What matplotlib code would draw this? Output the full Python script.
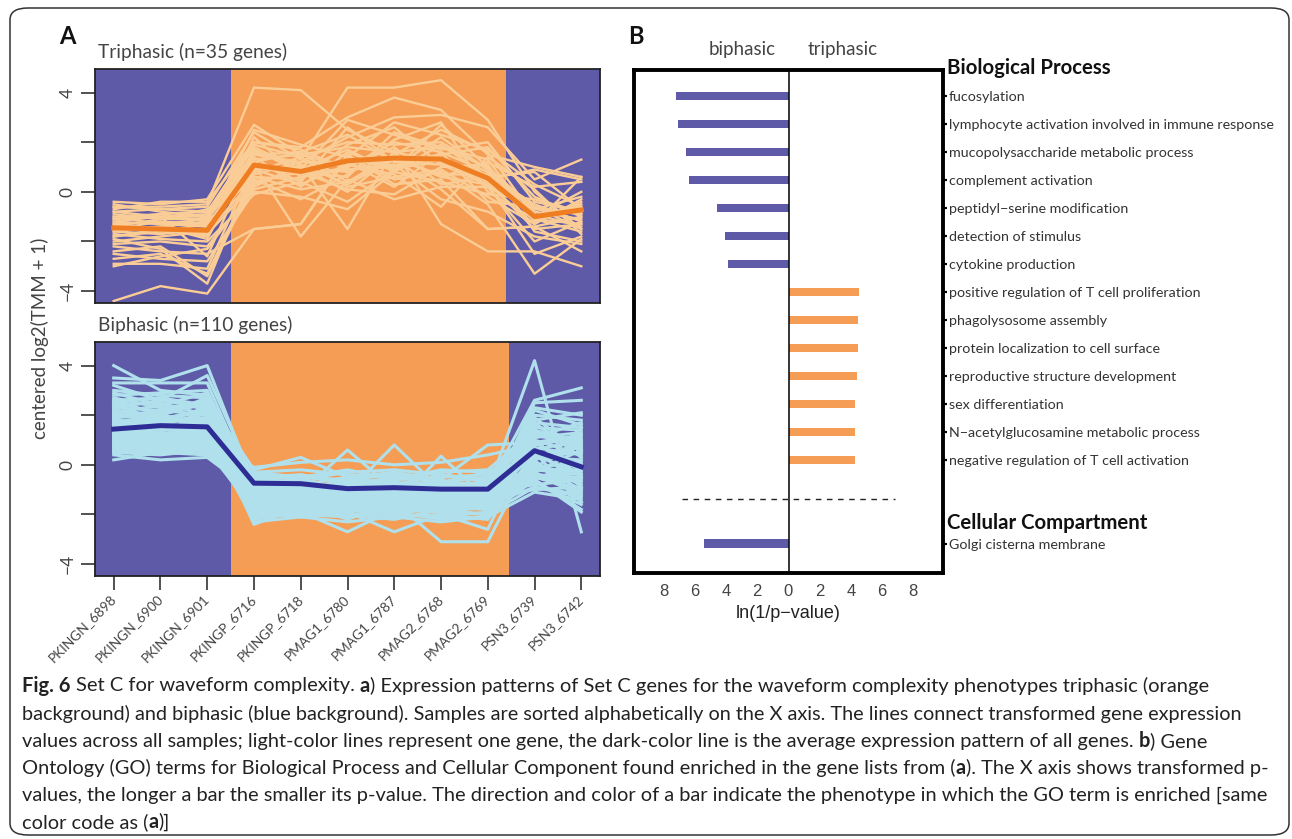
import numpy as np
import matplotlib.pyplot as plt
from matplotlib.patches import FancyBboxPatch
import matplotlib.transforms as mtransforms

plt.rcParams['font.family'] = ['Lato', 'DejaVu Sans']

W, H = 1292, 839

# ---------------- data ----------------
samples = ['PKINGN_6898', 'PKINGN_6900', 'PKINGN_6901', 'PKINGP_6716', 'PKINGP_6718',
           'PMAG1_6780', 'PMAG1_6787', 'PMAG2_6768', 'PMAG2_6769', 'PSN3_6739', 'PSN3_6742']

# average expression patterns (dark lines)
tri_mean = [-1.45, -1.5, -1.55, 1.08, 0.82, 1.25, 1.36, 1.32, 0.55, -1.0, -0.73]
bi_mean = [1.44, 1.58, 1.53, -0.74, -0.76, -0.96, -0.92, -0.98, -0.98, 0.57, -0.08]

# single genes, triphasic set (n=35)
tri_genes = [
    [-0.4, -0.5, -0.3, 2.7, 1.5, 1.0, 2.0, 1.6, 0.8, -0.6, -0.9],
    [-0.6, -0.6, -0.5, 4.2, 4.1, 2.5, 1.6, 1.8, 1.0, -1.2, -0.5],
    [-0.8, -0.7, -0.6, 2.4, 1.3, 4.2, 4.2, 4.5, 2.9, 0.0, -1.5],
    [-1.0, -0.9, -0.8, 2.0, 1.8, 3.0, 3.8, 3.3, 1.5, 1.0, 0.6],
    [-1.1, -1.0, -1.0, 1.5, 1.2, 2.2, 3.0, 3.1, 2.6, 0.5, 1.3],
    [-1.2, -1.3, -1.1, 1.8, 0.9, 2.9, 2.3, 1.7, 2.0, -0.4, -0.8],
    [-1.3, -1.2, -1.3, 1.2, 1.6, 0.4, 1.5, 2.5, 1.6, -1.0, -0.6],
    [-1.5, -1.4, -1.2, 0.6, 0.5, 1.9, 2.6, 1.1, 0.3, -2.5, -1.8],
    [-1.6, -1.7, -1.5, 1.0, 0.7, 1.3, 1.0, 2.2, 0.9, -0.8, -1.1],
    [-1.8, -1.6, -1.7, 0.3, 1.0, 0.8, 1.4, 0.6, 1.2, 0.2, 0.4],
    [-0.5, -0.8, -1.0, 1.4, 0.2, 1.6, 0.9, 1.3, 0.4, -1.5, -1.3],
    [-0.9, -1.1, -0.7, 0.8, 1.4, 0.2, 0.6, 0.9, -0.2, -1.3, -0.3],
    [-1.4, -1.5, -1.8, 2.2, 0.6, 1.0, 1.8, 0.3, 0.6, 0.8, -0.7],
    [-1.7, -1.9, -2.0, -0.1, 0.4, 2.6, 1.2, 1.5, 1.8, -0.2, -1.0],
    [-2.0, -1.8, -1.6, 0.5, -0.3, 0.7, 2.1, 2.8, 0.0, -1.1, -1.6],
    [-2.2, -2.4, -2.5, -1.5, -1.3, 1.5, 0.3, 0.5, -1.5, -1.4, -2.4],
    [-2.5, -2.7, -2.8, 0.0, -0.2, -0.7, 0.8, 1.9, 0.6, -0.9, -1.4],
    [-2.9, -2.9, -3.1, 1.1, -1.8, 0.5, -0.3, 0.2, 0.2, -2.0, -1.2],
    [-3.0, -2.6, -2.3, 0.2, 1.1, -1.5, 1.7, -1.3, -2.4, -2.4, -3.0],
    [-4.4, -3.8, -4.1, -1.5, -1.3, 1.4, 0.5, 0.8, -0.5, -3.3, -1.9],
    [-2.4, -2.2, -3.4, 0.4, 0.8, 0.1, -0.1, 1.0, 1.1, -1.6, -2.0],
    [-1.9, -2.3, -3.7, 0.9, 0.3, 1.1, 0.7, -0.6, 1.4, 0.1, -1.7],
    [-1.2, -1.0, -2.6, 1.6, 1.1, 0.3, 1.3, 0.7, 0.7, -0.5, -1.2],
    [-0.7, -0.4, -0.4, 2.0, 1.7, 0.9, 1.0, 1.4, 0.2, -0.7, -0.9],
    [-1.0, -1.3, -1.4, 1.3, 1.5, 1.8, 1.6, 1.2, 0.5, 0.9, 0.5],
    [-1.6, -1.4, -1.9, 1.7, 0.8, 0.6, 2.4, 1.8, 1.3, -1.2, -0.4],
    [-1.3, -1.6, -1.3, 0.7, 1.2, 1.2, 0.2, 1.6, -0.4, -0.6, -1.5],
    [-0.8, -1.0, -0.9, 1.9, 1.4, 2.0, 1.9, 2.0, 0.9, -1.0, 0.0],
    [-1.5, -1.2, -1.4, 1.1, 0.9, 1.7, 0.8, 0.4, -0.1, -0.3, -0.8],
    [-2.1, -2.0, -2.2, 0.1, 0.6, 0.9, 1.1, -0.3, -0.8, -1.8, -2.1],
    [-1.1, -0.9, -1.2, 2.5, 1.9, 1.4, 2.8, 2.3, 1.7, 0.3, -0.6],
    [-2.7, -2.5, -3.3, 0.6, 0.1, 0.4, 1.3, 0.1, -1.5, -1.4, -1.0],
    [-0.6, -0.7, -0.8, 1.5, 1.6, 2.3, 1.2, 1.1, 0.7, -1.1, -1.3],
    [-1.4, -1.1, -1.1, 1.2, 0.4, -0.4, 0.9, 2.7, 1.0, -0.7, -0.2],
    [-1.8, -1.5, -1.0, 0.9, 1.0, 0.0, 1.5, 0.6, 0.3, -1.3, 0.6],
]

# single genes, biphasic set (subset of the 110)
bi_genes = [
    [4.0, 3.0, 2.8, -0.4, -0.6, -1.0, -0.9, -1.1, -1.0, 4.2, -2.7],
    [3.5, 3.4, 4.0, -0.8, -1.0, -1.2, -1.1, -1.0, -0.9, 2.6, 3.1],
    [3.3, 3.3, 3.3, -1.0, -1.3, -1.5, -1.4, -1.6, -1.5, 2.5, 2.6],
    [3.2, 2.6, 3.6, -0.6, -0.7, -0.9, -0.8, -0.7, -0.8, 1.8, 2.1],
    [2.8, 2.9, 3.0, -1.2, -1.1, 0.6, -1.0, -1.2, -1.3, 2.2, 1.6],
    [2.7, 2.3, 2.5, -0.9, -0.8, -1.1, 0.8, -1.0, -1.1, 1.5, 1.4],
    [2.6, 2.7, 2.2, -1.4, -1.5, -1.3, -1.6, 0.35, -1.4, 1.2, 1.0],
    [2.5, 2.1, 2.6, -0.2, 0.3, -0.5, -0.3, -0.6, 0.8, 0.9, 1.2],
    [2.4, 2.5, 2.0, -1.8, -1.9, -2.7, -1.8, -1.9, -2.0, 1.9, 0.5],
    [2.3, 2.2, 2.4, -2.0, -2.1, -1.9, -2.7, -2.0, -2.6, 1.3, 0.8],
    [2.2, 1.9, 2.1, -1.6, -1.5, -1.7, -1.5, -3.1, -3.1, 0.6, -0.2],
    [2.1, 2.4, 1.8, -0.5, -0.4, -0.7, -0.6, -0.5, -0.4, 1.0, -0.5],
    [2.0, 1.8, 2.3, -1.1, -1.2, -1.0, -1.2, -1.3, -1.0, 0.3, 0.2],
    [1.9, 2.0, 1.7, -2.4, -1.7, -1.6, -1.7, -1.5, -1.8, -0.2, 1.5],
    [1.8, 1.7, 1.9, -1.3, -1.4, -1.4, -1.3, -1.4, -1.2, 0.0, -0.8],
    [1.7, 1.6, 1.5, -0.7, -0.9, -0.8, -0.7, -0.9, -0.7, 0.7, 0.4],
    [1.6, 1.5, 1.8, -1.5, -1.6, -1.8, -1.9, -1.7, -1.6, -0.4, -1.2],
    [1.5, 1.4, 1.6, -1.9, -1.8, -2.0, -2.0, -2.1, -1.9, 0.2, -1.5],
    [1.4, 1.6, 1.3, -0.3, -0.2, -0.4, -0.5, -0.3, -0.2, 1.4, 0.9],
    [1.3, 1.2, 1.4, -1.7, -1.6, -1.5, -1.4, -1.8, -1.7, -0.6, -1.8],
    [1.2, 1.3, 1.1, -0.9, -1.0, -0.6, -1.0, -0.8, -1.0, -0.1, -0.3],
    [1.1, 1.0, 1.2, -1.2, -1.3, -1.2, -1.2, -1.1, -1.2, 0.5, 0.0],
    [1.0, 1.1, 0.9, -2.0, -2.0, -2.1, -1.9, -2.2, -2.1, -1.1, -1.4],
    [0.9, 0.8, 1.0, -0.1, 0.1, 0.2, 0.0, 0.1, 0.4, 0.8, 1.1],
    [0.8, 0.9, 0.7, -1.0, -0.9, -1.1, -1.3, -1.2, -1.1, -0.8, -0.6],
    [0.7, 0.6, 0.8, -1.6, -1.4, -1.6, -1.6, -1.6, -1.5, -0.5, -1.0],
    [0.6, 0.7, 0.5, -0.4, -0.6, -0.3, -0.2, -0.4, -0.6, -0.3, 0.6],
    [0.5, 0.4, 0.6, -1.8, -1.7, -1.9, -1.7, -1.9, -2.0, -0.9, -1.3],
    [0.4, 0.2, 0.3, -1.1, -1.0, -1.3, -1.1, -1.0, -1.3, -1.0, -0.9],
    [0.2, 0.5, 0.4, -0.8, -0.7, -0.9, -0.9, -0.8, -0.9, -0.7, -1.6],
    [2.6, 2.0, 2.7, -1.3, -1.2, -1.4, -1.3, -1.5, -1.4, 2.0, 1.8],
    [2.3, 2.6, 2.3, -0.6, -0.5, -0.6, -0.4, -0.7, -0.5, 1.6, 0.7],
    [2.0, 2.1, 2.6, -1.7, -1.8, -1.7, -1.8, -1.6, -1.7, 1.1, 1.3],
    [1.9, 2.2, 2.0, -1.0, -1.1, -0.9, -1.1, -0.9, -0.8, 1.7, 0.3],
    [1.7, 1.9, 1.6, -2.1, -2.0, -1.8, -2.1, -2.0, -2.2, 0.4, -0.4],
    [1.6, 1.8, 2.2, -1.4, -1.3, -1.2, -1.5, -1.4, -1.3, 0.9, -0.1],
    [1.5, 1.2, 1.7, -0.9, -0.6, -1.0, -0.7, -1.1, -0.6, 1.2, 0.8],
    [1.4, 1.5, 1.2, -1.2, -1.4, -1.5, -1.2, -1.3, -1.5, 0.1, -0.7],
    [1.3, 1.4, 1.5, -1.8, -1.5, -2.2, -1.5, -1.8, -1.6, -0.3, -1.1],
    [1.2, 1.1, 1.3, -0.5, -0.8, -0.5, -0.8, -0.4, -0.7, 0.6, 1.0],
    [1.1, 0.9, 1.0, -1.5, -1.7, -1.4, -1.7, -1.5, -1.8, -0.4, -0.5],
    [1.0, 1.2, 0.8, -1.1, -0.9, -1.2, -0.9, -1.2, -0.9, 0.3, 0.5],
    [0.9, 1.0, 1.1, -2.2, -1.9, -2.0, -2.2, -1.8, -2.0, -0.6, -1.9],
    [0.8, 0.7, 0.9, -0.7, -1.2, -0.8, -1.2, -0.6, -1.2, -0.2, -0.2],
    [0.7, 0.8, 0.6, -1.4, -1.0, -1.7, -1.0, -1.7, -1.0, -0.6, 0.2],
    [0.6, 0.5, 0.7, -1.9, -1.6, -1.3, -1.8, -1.3, -1.6, -0.9, -1.2],
    [0.5, 0.6, 0.4, -0.3, -0.5, -0.2, -0.6, -0.2, -0.3, 0.2, 0.9],
    [3.0, 2.8, 2.7, -1.6, -1.5, -1.6, -1.4, -1.7, -1.5, 2.3, 2.0],
    [2.9, 2.4, 2.9, -0.8, -0.9, -0.7, -1.0, -0.8, -1.0, 1.7, 1.5],
    [2.5, 2.7, 2.4, -1.5, -1.3, -1.6, -1.6, -1.4, -1.6, 1.4, 0.6],
    [2.2, 2.0, 2.5, -1.9, -2.0, -1.8, -2.0, -1.7, -1.8, 0.7, -0.9],
    [1.8, 1.6, 2.1, -1.1, -1.4, -1.1, -1.4, -1.1, -1.4, 1.0, 0.4],
    [1.5, 1.7, 1.4, -0.6, -0.4, -0.8, -0.5, -0.7, -0.3, 0.8, 1.2],
    [1.3, 1.0, 1.6, -1.3, -1.1, -1.3, -1.0, -1.4, -1.1, -0.1, 0.1],
    [1.0, 1.3, 1.2, -1.7, -1.8, -1.5, -1.8, -1.9, -1.7, 0.0, -1.0],
    [0.8, 1.1, 0.7, -1.0, -0.8, -1.4, -0.8, -1.0, -0.8, -0.5, -0.6],
    [2.4, 1.8, 1.9, -1.2, -1.6, -1.1, -1.6, -1.2, -1.4, 1.1, 1.7],
    [2.1, 1.7, 1.9, -2.3, -2.1, -2.3, -2.1, -2.3, -2.1, 0.5, -1.5],
    [1.7, 2.0, 1.4, -0.8, -1.2, -1.0, -1.1, -0.9, -1.2, 0.4, 0.7],
    [1.2, 1.5, 1.0, -1.4, -1.3, -1.5, -1.3, -1.5, -1.3, -0.2, -0.4],
]

# GO enrichment, ln(1/p-value)
bp_terms = ['fucosylation', 'lymphocyte activation involved in immune response',
            'mucopolysaccharide metabolic process', 'complement activation',
            'peptidyl\u2212serine modification', 'detection of stimulus', 'cytokine production',
            'positive regulation of T cell proliferation', 'phagolysosome assembly',
            'protein localization to cell surface', 'reproductive structure development',
            'sex differentiation', 'N\u2212acetylglucosamine metabolic process',
            'negative regulation of T cell activation']
bp_scores = [7.2, 7.05, 6.6, 6.38, 4.58, 4.09, 3.89, 4.53, 4.45, 4.45, 4.37, 4.29, 4.29, 4.23]
bp_pheno = ['biphasic'] * 7 + ['triphasic'] * 7
cc_terms = ['Golgi cisterna membrane']
cc_scores = [5.42]
cc_pheno = ['biphasic']

# ---------------- style ----------------
blue_bg = '#5f5aa8'
orange_bg = '#f59d55'
tri_light = '#fbcd96'
tri_dark = '#ef7d22'
bi_light = '#b0e0ec'
bi_dark = '#2e2d96'
txt = '#444444'
pheno_col = {'biphasic': blue_bg, 'triphasic': orange_bg}


def fx(px):
    return px / W


def fy(py):
    return 1 - py / H


fig = plt.figure(figsize=(W / 100, H / 100), dpi=100)
fig.patch.set_facecolor('white')

# rounded frame around the whole figure
frame = FancyBboxPatch((fx(10), fy(835)), fx(1289) - fx(10), (835 - 8) / H,
                       boxstyle='round,pad=0,rounding_size=0.014',
                       transform=fig.transFigure, fc='none', ec='#333333', lw=1.1)
fig.patches.append(frame)

xs = np.arange(1, len(samples) + 1)


def expr_panel(ax, genes, mean, light, dark, orange_end, lw_light):
    ax.axvspan(0, 3.5, color=blue_bg, lw=0)
    ax.axvspan(3.5, orange_end, color=orange_bg, lw=0)
    ax.axvspan(orange_end, 12, color=blue_bg, lw=0)
    for g in genes:
        ax.plot(xs, g, color=light, lw=lw_light)
    ax.plot(xs, mean, color=dark, lw=3.6)
    ax.set_xlim(0.6, 11.4)
    ax.set_ylim(-4.48, 4.95)
    ax.set_yticks([-4, -2, 0, 2, 4])
    ax.set_yticklabels(['\u22124', '', '0', '', '4'], rotation=90, va='center')
    ax.tick_params(axis='y', direction='out', length=10, width=1.2, color='#333333',
                   labelsize=12.5, labelcolor=txt, pad=4)
    for s in ax.spines.values():
        s.set_linewidth(1.3)
        s.set_color('#222222')


ax1 = fig.add_axes([fx(95), fy(303), fx(600) - fx(95), (303 - 69) / H])
expr_panel(ax1, tri_genes, tri_mean, tri_light, tri_dark, 9.38, 1.7)
ax1.set_xticks([])

ax2 = fig.add_axes([fx(95), fy(576), fx(600) - fx(95), (576 - 342) / H])
expr_panel(ax2, bi_genes, bi_mean, bi_light, bi_dark, 9.46, 2.2)
ax2.set_xticks(xs)
ax2.set_xticklabels(samples, rotation=45, ha='right', va='center', rotation_mode='anchor')
ax2.tick_params(axis='x', direction='out', length=10, width=1.2, color='#333333',
                labelsize=9.8, labelcolor=txt, pad=5)

fig.text(fx(98), fy(52), 'Triphasic (n=35 genes)', fontsize=13.8, color=txt, va='center')
fig.text(fx(98), fy(325), 'Biphasic (n=110 genes)', fontsize=13.8, color=txt, va='center')
fig.text(fx(40), fy(338), 'centered log2(TMM + 1)', rotation=90, fontsize=13.5,
         color=txt, ha='center', va='center')
fig.text(fx(59), fy(36), 'A', fontsize=17, fontweight='bold', color='#111111', va='center')
fig.text(fx(628), fy(36), 'B', fontsize=17, fontweight='bold', color='#111111', va='center')

# ---------------- panel B ----------------
ax3 = fig.add_axes([fx(634), fy(573), fx(943) - fx(634), (573 - 70) / H])
bp_y = np.arange(len(bp_terms))
cc_y = np.array([16])
bp_x = [-s if p == 'biphasic' else s for s, p in zip(bp_scores, bp_pheno)]
cc_x = [-s if p == 'biphasic' else s for s, p in zip(cc_scores, cc_pheno)]
ax3.barh(bp_y, bp_x, height=0.3, color=[pheno_col[p] for p in bp_pheno])
ax3.barh(cc_y, cc_x, height=0.3, color=[pheno_col[p] for p in cc_pheno])
ax3.axvline(0, color='black', lw=1.1)
ax3.plot([-6.8, 6.8], [14.4, 14.4], color='#222222', lw=1, ls=(0, (4, 4)))
ax3.set_xlim(-9.9, 9.9)
ax3.set_ylim(17.05, -0.93)
ticks = [-8, -6, -4, -2, 0, 2, 4, 6, 8]
ax3.set_xticks(ticks)
ax3.set_xticklabels([str(abs(t)) for t in ticks], family=['Liberation Sans'])
ax3.tick_params(axis='x', length=0, pad=8, labelsize=12, labelcolor=txt)
ax3.set_xlabel('ln(1/p\u2212value)', fontsize=13, family=['Liberation Sans', 'DejaVu Sans'],
               color='#222222', labelpad=4)
ax3.yaxis.tick_right()
ax3.set_yticks(list(bp_y) + list(cc_y))
ax3.set_yticklabels(bp_terms + cc_terms)
ax3.tick_params(axis='y', direction='out', length=3, width=1.6, pad=1,
                labelsize=10.3, labelcolor='#333333')
for s in ax3.spines.values():
    s.set_linewidth(2.8)
    s.set_color('black')

trans = mtransforms.blended_transform_factory(ax3.transAxes, ax3.transData)
ax3.text(1.013, -1.0, 'Biological Process', transform=trans, fontsize=14.7,
         fontweight='bold', va='center', color='#111111')
ax3.text(1.013, 15.25, 'Cellular Compartment', transform=trans, fontsize=14.7,
         fontweight='bold', va='center', color='#111111')
fig.text(fx(742), fy(50), 'biphasic', fontsize=13.5, color=txt, ha='center', va='center')
fig.text(fx(843), fy(50), 'triphasic', fontsize=13.5, color=txt, ha='center', va='center')

# ---------------- caption ----------------
caption = [
    [('Fig. 6', True), (' Set C for waveform complexity. ', False), ('a', True),
     (') Expression patterns of Set C genes for the waveform complexity phenotypes triphasic (orange', False)],
    [('background) and biphasic (blue background). Samples are sorted alphabetically on the X axis. '
      'The lines connect transformed gene expression', False)],
    [('values across all samples; light-color lines represent one gene, the dark-color line is the '
      'average expression pattern of all genes. ', False), ('b', True), (') Gene', False)],
    [('Ontology (GO) terms for Biological Process and Cellular Component found enriched in the gene '
      'lists from (', False), ('a', True), ('). The X axis shows transformed p-', False)],
    [('values, the longer a bar the smaller its p-value. The direction and color of a bar indicate '
      'the phenotype in which the GO term is enriched [same', False)],
    [('color code as (', False), ('a', True), (')]', False)],
]
cap_y = [686, 714, 741, 768, 795, 822]
cap_end = [1230, 1233, 1212, 1276, 1273, None]   # right end of each line in the reference
cap_x0 = 22.0
base_size = 14.0
renderer = fig.canvas.get_renderer()


def text_w(s, bold, size):
    t = fig.text(0, 0, s, fontsize=size, fontweight='bold' if bold else 'normal')
    w = t.get_window_extent(renderer).width
    t.remove()
    return w


def space_w(bold, size):
    return text_w('x x', bold, size) - text_w('xx', bold, size)


def line_width(parts, size):
    total = 0.0
    for s, bold in parts:
        n_sp = (len(s) - len(s.lstrip(' '))) + (len(s) - len(s.rstrip(' ')))
        total += text_w(s.strip(' '), bold, size) + n_sp * space_w(bold, size)
    return total


sizes = []
for parts, end in zip(caption, cap_end):
    if end is None:
        sizes.append(None)
        continue
    sizes.append(base_size * (end - cap_x0) / line_width(parts, base_size))
mean_size = np.mean([s for s in sizes if s is not None])
sizes = [mean_size if s is None else 0.5 * (s + mean_size) for s in sizes]

for parts, yy, size in zip(caption, cap_y, sizes):
    px = cap_x0
    for s, bold in parts:
        lead = len(s) - len(s.lstrip(' '))
        trail = len(s) - len(s.rstrip(' '))
        px += lead * space_w(bold, size)
        core = s.strip(' ')
        t = fig.text(fx(px), fy(yy), core, fontsize=size, color='#222222',
                     fontweight='bold' if bold else 'normal', va='center', ha='left')
        px += t.get_window_extent(renderer).width + trail * space_w(bold, size)

fig.savefig('out.png', dpi=100)
